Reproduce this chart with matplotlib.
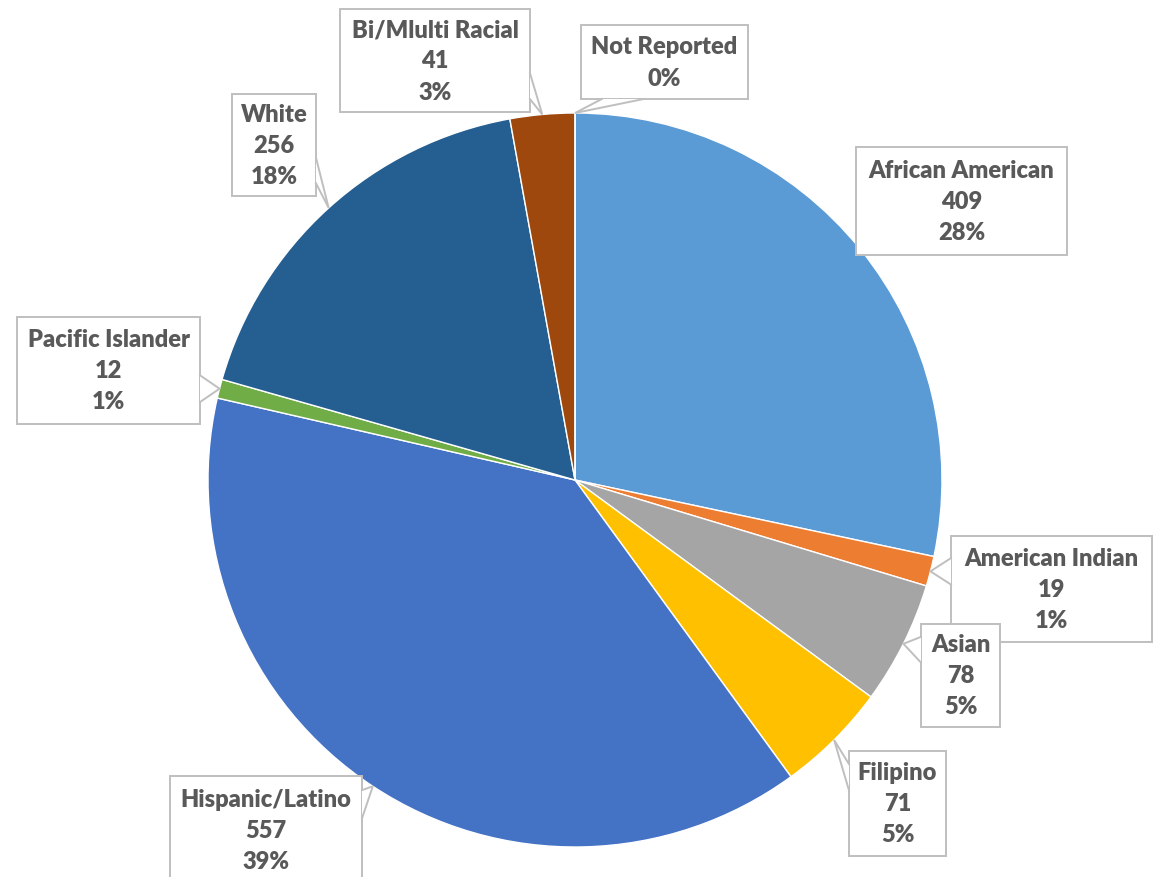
import matplotlib
matplotlib.use('Agg')
import matplotlib.pyplot as plt
from matplotlib.patches import Rectangle, Polygon
import numpy as np

## Dados do gráfico ##
categorias = ["African American", "American Indian", "Asian", "Filipino",
              "Hispanic/Latino", "Pacific Islander", "White", "Bi/Mlulti Racial",
              "Not Reported"]
valores = [409, 19, 78, 71, 557, 12, 256, 41, 0]
cores = ["#5B9BD5", "#ED7D31", "#A5A5A5", "#FFC000", "#4472C4",
         "#70AD47", "#255E91", "#9E480E", "#636363"]

## Caixas dos rótulos (x0, y0, x1, y1 em pixels) e o lado da "setinha" ##
caixas = {
    "African American": ((856, 148, 1067, 256), None),
    "American Indian": ((951, 537, 1152, 643), "left"),
    "Asian": ((921, 625, 1000, 728), "left"),
    "Filipino": ((849, 752, 946, 857), "left"),
    "Hispanic/Latino": ((170, 777, 362, 890), "right"),
    "Pacific Islander": ((17, 318, 200, 425), "right"),
    "White": ((232, 95, 316, 197), "right"),
    "Bi/Mlulti Racial": ((340, 10, 530, 113), "right"),
    "Not Reported": ((581, 26, 748, 100), "bottom"),
}

W, H = 1166, 878
fig = plt.figure(figsize=(W / 100, H / 100), dpi=100)
ax = fig.add_axes([0, 0, 1, 1])

cx, cy, r = 575, 481, 367
wedges, _ = ax.pie(valores, colors=cores, startangle=-90, counterclock=True,
                   center=(cx, cy), radius=r,
                   wedgeprops=dict(edgecolor="white", linewidth=1))

ax.set_xlim(0, W)
ax.set_ylim(H, 0)
ax.axis('off')

total = sum(valores)
cinza_borda = "#BFBFBF"
cor_texto = "#595959"

for nome, val, w in zip(categorias, valores, wedges):
    (x0, y0, x1, y1), lado = caixas[nome]
    pct = round(100 * val / total)
    if val > 0:
        texto = f"{nome}\n{val}\n{pct}%"
    else:
        texto = f"{nome}\n{pct}%"

    # ponto na borda da fatia
    meio = np.deg2rad((w.theta1 + w.theta2) / 2)
    ax_, ay_ = cx + r * np.cos(meio), cy + r * np.sin(meio)

    ax.add_patch(Rectangle((x0, y0), x1 - x0, y1 - y0, facecolor="white",
                           edgecolor=cinza_borda, linewidth=1.4, zorder=5))

    ## desenhando a setinha do callout ##
    if lado is not None:
        if lado in ("left", "right"):
            xb = x0 if lado == "left" else x1
            comp = y1 - y0
            c = min(max(ay_, y0 + 0.25 * comp), y1 - 0.25 * comp)
            b1, b2 = (xb, c - 0.125 * comp), (xb, c + 0.125 * comp)
        else:
            yb = y1 if lado == "bottom" else y0
            comp = x1 - x0
            c = min(max(ax_, x0 + 0.25 * comp), x1 - 0.25 * comp)
            b1, b2 = (c - 0.125 * comp, yb), (c + 0.125 * comp, yb)
        ax.add_patch(Polygon([b1, (ax_, ay_), b2], closed=True,
                             facecolor="white", edgecolor="none", zorder=6))
        ax.plot([b1[0], ax_, b2[0]], [b1[1], ay_, b2[1]], color=cinza_borda,
                linewidth=1.4, zorder=7, solid_joinstyle="miter")

    yc = (y0 + y1) / 2 if nome != "Hispanic/Latino" else y0 + 54
    ax.text((x0 + x1) / 2, yc, texto, ha="center", va="center", fontsize=17,
            fontweight="heavy", family=["Lato", "DejaVu Sans"], color=cor_texto,
            linespacing=1.5, zorder=8)

fig.savefig("out.png", dpi=100)
